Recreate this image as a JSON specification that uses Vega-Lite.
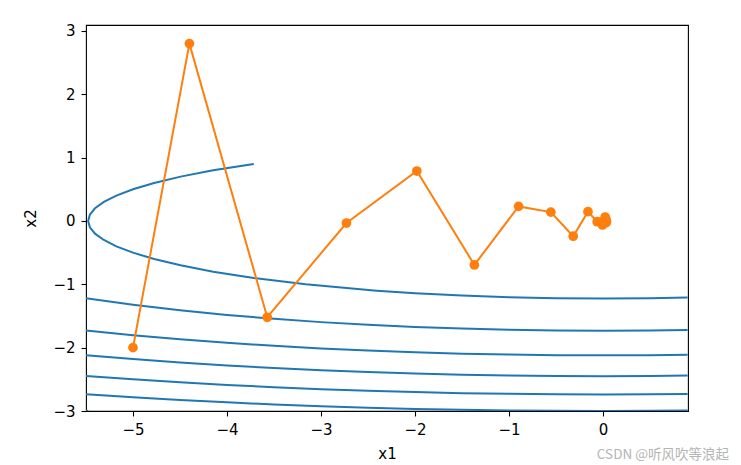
{
  "$schema": "https://vega.github.io/schema/vega-lite/v6.json",
  "width": 602,
  "height": 386,
  "autosize": {"type": "none"},
  "padding": {"left": 86, "top": 25, "right": 53, "bottom": 54},
  "background": "white",
  "title": {"text": "CSDN @听风吹等浪起", "orient": "bottom", "anchor": "end", "color": "#b4b4b4", "fontSize": 13.5, "fontWeight": "normal", "font": "Noto Sans CJK SC", "dx": 41, "offset": -13},
  "config": {
    "view": {"stroke": "#000000", "strokeWidth": 1.1},
    "axis": {
      "labelFont": "DejaVu Sans", "labelFontSize": 15, "labelColor": "#000000",
      "titleFont": "DejaVu Sans", "titleFontSize": 15, "titleFontWeight": "normal", "titleColor": "#000000",
      "tickColor": "#000000", "tickSize": 5, "tickWidth": 1.1, "labelPadding": 6,
      "domain": false, "grid": false
    }
  },
  "datasets": {
    "contour": [
      {"level": 3, "i": 0, "x1": -3.715, "x2": 0.9},
      {"level": 3, "i": 1, "x1": -4.147, "x2": 0.8},
      {"level": 3, "i": 2, "x1": -4.494, "x2": 0.7},
      {"level": 3, "i": 3, "x1": -4.775, "x2": 0.6},
      {"level": 3, "i": 4, "x1": -5.0, "x2": 0.5},
      {"level": 3, "i": 5, "x1": -5.177, "x2": 0.4},
      {"level": 3, "i": 6, "x1": -5.31, "x2": 0.3},
      {"level": 3, "i": 7, "x1": -5.404, "x2": 0.2},
      {"level": 3, "i": 8, "x1": -5.459, "x2": 0.1},
      {"level": 3, "i": 9, "x1": -5.477, "x2": 0.0},
      {"level": 3, "i": 10, "x1": -5.459, "x2": -0.1},
      {"level": 3, "i": 11, "x1": -5.404, "x2": -0.2},
      {"level": 3, "i": 12, "x1": -5.31, "x2": -0.3},
      {"level": 3, "i": 13, "x1": -5.177, "x2": -0.4},
      {"level": 3, "i": 14, "x1": -5.0, "x2": -0.5},
      {"level": 3, "i": 15, "x1": -4.775, "x2": -0.6},
      {"level": 3, "i": 16, "x1": -4.494, "x2": -0.7},
      {"level": 3, "i": 17, "x1": -4.147, "x2": -0.8},
      {"level": 3, "i": 18, "x1": -3.715, "x2": -0.9},
      {"level": 3, "i": 19, "x1": -3.162, "x2": -1.0},
      {"level": 3, "i": 20, "x1": -2.408, "x2": -1.1},
      {"level": 3, "i": 21, "x1": -2.2, "x2": -1.1216},
      {"level": 3, "i": 22, "x1": -2.0, "x2": -1.14},
      {"level": 3, "i": 23, "x1": -1.5, "x2": -1.178},
      {"level": 3, "i": 24, "x1": -1.0, "x2": -1.204},
      {"level": 3, "i": 25, "x1": -0.5, "x2": -1.2196},
      {"level": 3, "i": 26, "x1": 0.0, "x2": -1.2247},
      {"level": 3, "i": 27, "x1": 0.5, "x2": -1.2196},
      {"level": 3, "i": 28, "x1": 0.9, "x2": -1.2081},

      {"level": 6, "i": 0, "x1": -5.5, "x2": -1.2196},
      {"level": 6, "i": 1, "x1": -5.0, "x2": -1.3229},
      {"level": 6, "i": 2, "x1": -4.5, "x2": -1.4098},
      {"level": 6, "i": 3, "x1": -4.0, "x2": -1.4832},
      {"level": 6, "i": 4, "x1": -3.5, "x2": -1.5452},
      {"level": 6, "i": 5, "x1": -3.0, "x2": -1.5969},
      {"level": 6, "i": 6, "x1": -2.5, "x2": -1.6394},
      {"level": 6, "i": 7, "x1": -2.0, "x2": -1.6733},
      {"level": 6, "i": 8, "x1": -1.5, "x2": -1.6993},
      {"level": 6, "i": 9, "x1": -1.0, "x2": -1.7176},
      {"level": 6, "i": 10, "x1": -0.5, "x2": -1.7284},
      {"level": 6, "i": 11, "x1": 0.0, "x2": -1.7321},
      {"level": 6, "i": 12, "x1": 0.5, "x2": -1.7284},
      {"level": 6, "i": 13, "x1": 0.9, "x2": -1.7203},

      {"level": 9, "i": 0, "x1": -5.5, "x2": -1.7284},
      {"level": 9, "i": 1, "x1": -5.0, "x2": -1.8028},
      {"level": 9, "i": 2, "x1": -4.5, "x2": -1.8675},
      {"level": 9, "i": 3, "x1": -4.0, "x2": -1.9235},
      {"level": 9, "i": 4, "x1": -3.5, "x2": -1.9717},
      {"level": 9, "i": 5, "x1": -3.0, "x2": -2.0125},
      {"level": 9, "i": 6, "x1": -2.5, "x2": -2.0463},
      {"level": 9, "i": 7, "x1": -2.0, "x2": -2.0736},
      {"level": 9, "i": 8, "x1": -1.5, "x2": -2.0946},
      {"level": 9, "i": 9, "x1": -1.0, "x2": -2.1095},
      {"level": 9, "i": 10, "x1": -0.5, "x2": -2.1184},
      {"level": 9, "i": 11, "x1": 0.0, "x2": -2.1213},
      {"level": 9, "i": 12, "x1": 0.5, "x2": -2.1184},
      {"level": 9, "i": 13, "x1": 0.9, "x2": -2.1118},

      {"level": 12, "i": 0, "x1": -5.5, "x2": -2.1184},
      {"level": 12, "i": 1, "x1": -5.0, "x2": -2.1794},
      {"level": 12, "i": 2, "x1": -4.5, "x2": -2.2333},
      {"level": 12, "i": 3, "x1": -4.0, "x2": -2.2804},
      {"level": 12, "i": 4, "x1": -3.5, "x2": -2.3211},
      {"level": 12, "i": 5, "x1": -3.0, "x2": -2.3558},
      {"level": 12, "i": 6, "x1": -2.5, "x2": -2.3848},
      {"level": 12, "i": 7, "x1": -2.0, "x2": -2.4083},
      {"level": 12, "i": 8, "x1": -1.5, "x2": -2.4264},
      {"level": 12, "i": 9, "x1": -1.0, "x2": -2.4393},
      {"level": 12, "i": 10, "x1": -0.5, "x2": -2.4469},
      {"level": 12, "i": 11, "x1": 0.0, "x2": -2.4495},
      {"level": 12, "i": 12, "x1": 0.5, "x2": -2.4469},
      {"level": 12, "i": 13, "x1": 0.9, "x2": -2.4412},

      {"level": 15, "i": 0, "x1": -5.5, "x2": -2.4469},
      {"level": 15, "i": 1, "x1": -5.0, "x2": -2.5},
      {"level": 15, "i": 2, "x1": -4.5, "x2": -2.5471},
      {"level": 15, "i": 3, "x1": -4.0, "x2": -2.5884},
      {"level": 15, "i": 4, "x1": -3.5, "x2": -2.6244},
      {"level": 15, "i": 5, "x1": -3.0, "x2": -2.6552},
      {"level": 15, "i": 6, "x1": -2.5, "x2": -2.681},
      {"level": 15, "i": 7, "x1": -2.0, "x2": -2.7019},
      {"level": 15, "i": 8, "x1": -1.5, "x2": -2.718},
      {"level": 15, "i": 9, "x1": -1.0, "x2": -2.7295},
      {"level": 15, "i": 10, "x1": -0.5, "x2": -2.7363},
      {"level": 15, "i": 11, "x1": 0.0, "x2": -2.7386},
      {"level": 15, "i": 12, "x1": 0.5, "x2": -2.7363},
      {"level": 15, "i": 13, "x1": 0.9, "x2": -2.7312},

      {"level": 18, "i": 0, "x1": -5.5, "x2": -2.7363},
      {"level": 18, "i": 1, "x1": -5.0, "x2": -2.7839},
      {"level": 18, "i": 2, "x1": -4.5, "x2": -2.8262},
      {"level": 18, "i": 3, "x1": -4.0, "x2": -2.8636},
      {"level": 18, "i": 4, "x1": -3.5, "x2": -2.8961},
      {"level": 18, "i": 5, "x1": -3.0, "x2": -2.924},
      {"level": 18, "i": 6, "x1": -2.5, "x2": -2.9475},
      {"level": 18, "i": 7, "x1": -2.0, "x2": -2.9665},
      {"level": 18, "i": 8, "x1": -1.5, "x2": -2.9812},
      {"level": 18, "i": 9, "x1": -1.0, "x2": -2.9917},
      {"level": 18, "i": 10, "x1": -0.5, "x2": -2.9979},
      {"level": 18, "i": 11, "x1": 0.0, "x2": -3.0},
      {"level": 18, "i": 12, "x1": 0.5, "x2": -2.9979},
      {"level": 18, "i": 13, "x1": 0.9, "x2": -2.9932},

      {"level": 21, "i": 0, "x1": -5.5, "x2": -2.9979},
      {"level": 21, "i": 1, "x1": -5.477, "x2": -3.0}
    ],
    "trace": [
      {"step": 0, "x1": -5.0, "x2": -2.0},
      {"step": 1, "x1": -4.4, "x2": 2.8},
      {"step": 2, "x1": -3.572, "x2": -1.52},
      {"step": 3, "x1": -2.72936, "x2": -0.032},
      {"step": 4, "x1": -1.98052, "x2": 0.7888},
      {"step": 5, "x1": -1.36843, "x2": -0.69392},
      {"step": 6, "x1": -0.89818, "x2": 0.230128},
      {"step": 7, "x1": -0.55527, "x2": 0.139845},
      {"step": 8, "x1": -0.31718, "x2": -0.240924},
      {"step": 9, "x1": -0.16008, "x2": 0.146909},
      {"step": 10, "x1": -0.06232, "x2": -0.011756},
      {"step": 11, "x1": -0.00596, "x2": -0.062874},
      {"step": 12, "x1": 0.02294, "x2": 0.062465},
      {"step": 13, "x1": 0.03463, "x2": -0.024781},
      {"step": 14, "x1": 0.03632, "x2": -0.008929},
      {"step": 15, "x1": 0.03281, "x2": 0.020427},
      {"step": 16, "x1": 0.02712, "x2": -0.01392},
      {"step": 17, "x1": 0.02102, "x2": 0.002314},
      {"step": 18, "x1": 0.01544, "x2": 0.004877},
      {"step": 19, "x1": 0.0108, "x2": -0.005546},
      {"step": 20, "x1": 0.00718, "x2": 0.002553}
    ]
  },
  "encoding": {
    "x": {"field": "x1", "type": "quantitative", "title": "x1",
          "scale": {"domain": [-5.5, 0.904], "nice": false, "zero": false},
          "axis": {"values": [-5, -4, -3, -2, -1, 0], "format": "d", "titlePadding": 9}},
    "y": {"field": "x2", "type": "quantitative", "title": "x2",
          "scale": {"domain": [-3, 3.094], "nice": false, "zero": false},
          "axis": {"values": [-3, -2, -1, 0, 1, 2, 3], "format": "d", "titlePadding": 14}}
  },
  "layer": [
    {
      "data": {"name": "contour"},
      "mark": {"type": "line", "color": "#1f77b4", "strokeWidth": 2, "clip": true},
      "encoding": {
        "detail": {"field": "level", "type": "nominal"},
        "order": {"field": "i", "type": "quantitative"}
      }
    },
    {
      "data": {"name": "trace"},
      "mark": {"type": "line", "color": "#ff7f0e", "strokeWidth": 2, "clip": true},
      "encoding": {"order": {"field": "step", "type": "quantitative"}}
    },
    {
      "data": {"name": "trace"},
      "mark": {"type": "point", "filled": true, "color": "#ff7f0e", "opacity": 1, "size": 95, "shape": "circle"},
      "encoding": {}
    }
  ]
}
